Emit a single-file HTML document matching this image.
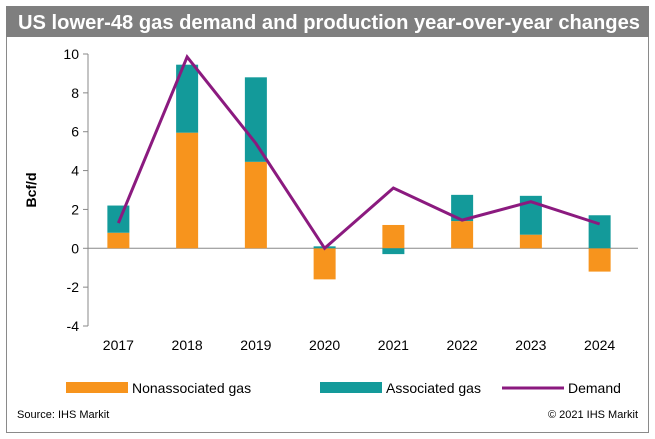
<!DOCTYPE html>
<html><head><meta charset="utf-8"><style>
body{margin:0;background:#fff;font-family:"Liberation Sans",Arial,sans-serif;}
#wrap{position:relative;width:655px;height:439px;overflow:hidden;}
</style></head><body>
<div id="wrap">
<svg id="chart" width="655" height="439" xmlns="http://www.w3.org/2000/svg">
<rect x="6.5" y="6.5" width="642" height="426" fill="#fff" stroke="#8a8a8a" stroke-width="1"/>
<rect x="6" y="6" width="643" height="31" fill="#7f7f7f"/>
<text x="18" y="29" font-size="20" font-weight="bold" fill="#fff" textLength="622" lengthAdjust="spacingAndGlyphs">US lower-48 gas demand and production year-over-year changes</text>
<text transform="translate(36,190) rotate(-90)" text-anchor="middle" font-size="14" font-weight="bold" fill="#000">Bcf/d</text>
<g id="axes"></g><g id="bars"></g><g id="line"></g>
<g>
<rect x="66" y="382" width="62" height="11" fill="#f7941d"/>
<text x="132" y="393" font-size="14">Nonassociated gas</text>
<rect x="320" y="382" width="62" height="11" fill="#139a9a"/>
<text x="386" y="393" font-size="14">Associated gas</text>
<line x1="502" y1="388" x2="564" y2="388" stroke="#8b1a7f" stroke-width="3"/>
<text x="568" y="393" font-size="14">Demand</text>
</g>
<text x="17" y="418" font-size="11">Source: IHS Markit</text>
<text x="638" y="418" font-size="11" text-anchor="end">© 2021 IHS Markit</text>
</svg>
</div>
<script>
const categories=["2017","2018","2019","2020","2021","2022","2023","2024"];
const nonassociated=[0.8,5.95,4.45,-1.6,1.2,1.4,0.7,-1.2];
const associated=[1.4,3.5,4.35,0.1,-0.3,1.35,2.0,1.7];
const demand=[1.3,9.85,5.4,0.0,3.1,1.45,2.4,1.25];
const yTicks=[10,8,6,4,2,0,-2,-4];
const NS="http://www.w3.org/2000/svg";
const x0=88,x1=638,yTop=54,yBot=326,yMax=10,yMin=-4;
const band=(x1-x0)/categories.length;
function xs(i){return x0+band*(i+0.5)-4;}
function ys(v){return yTop+(yMax-v)/(yMax-yMin)*(yBot-yTop);}
function mk(tag,attrs,parent){const e=document.createElementNS(NS,tag);for(const k in attrs)e.setAttribute(k,attrs[k]);parent.appendChild(e);return e;}
const axes=document.getElementById('axes'),bars=document.getElementById('bars'),line=document.getElementById('line');
mk('line',{x1:x0,y1:yTop,x2:x0,y2:yBot,stroke:'#888'},axes);
yTicks.forEach(t=>{
 const tk=mk('line',{x1:x0-5,y1:ys(t),x2:x0,y2:ys(t),stroke:'#888'},axes);
 
 
 const tx=mk('text',{x:x0-9,y:ys(t)+5,'text-anchor':'end','font-size':14},axes);
 tx.textContent=t;
 
 
});
const zl=mk('line',{x1:x0,y1:ys(0),x2:x1,y2:ys(0),stroke:'#888'},axes);


categories.forEach((c,i)=>{
 const tx=mk('text',{x:xs(i),y:350,'text-anchor':'middle','font-size':14},axes);
 tx.textContent=c;
 
 
});
const bw=22;
categories.forEach((c,i)=>{
 let pos=0,neg=0;
 [[nonassociated[i],'#f7941d','bar-nonassociated-'+c],[associated[i],'#139a9a','bar-associated-'+c]].forEach(([v,col,name])=>{
  let a,b;
  if(v>=0){a=pos;b=pos+v;pos=b;}else{a=neg;b=neg+v;neg=b;}
  const r=mk('rect',{x:xs(i)-bw/2,y:Math.min(ys(a),ys(b)),width:bw,height:Math.abs(ys(a)-ys(b)),fill:col},bars);
  
  
 });
});
const pl=mk('polyline',{points:demand.map((v,i)=>xs(i)+','+ys(v)).join(' '),fill:'none',stroke:'#8b1a7f','stroke-width':3,'stroke-linejoin':'miter'},line);


</script>
</body></html>
